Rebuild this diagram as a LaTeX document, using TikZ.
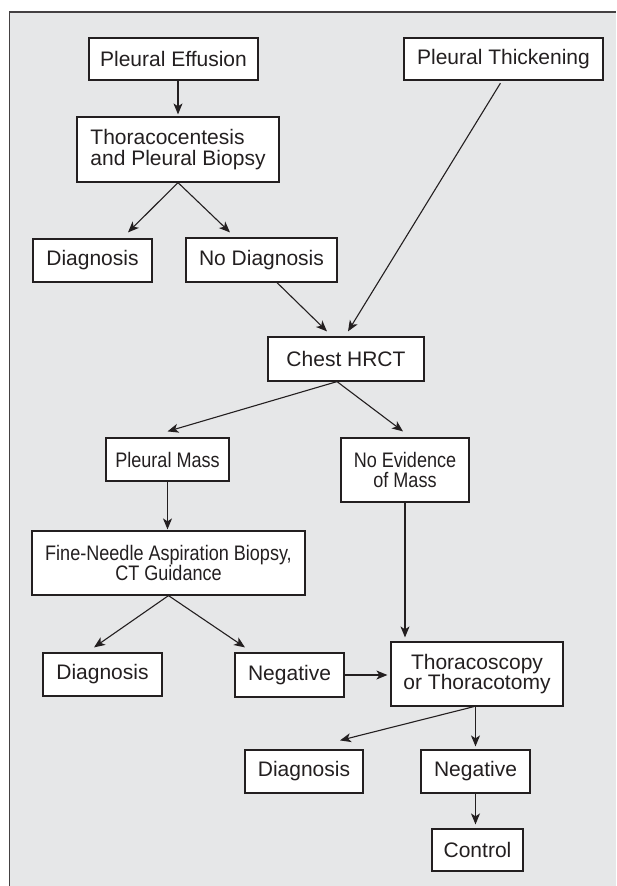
\documentclass[tikz,border=0pt]{standalone}
\usepackage{fontspec}
\setmainfont{Liberation Sans}
\newfontfamily\narrowfont[FakeStretch=0.86]{Liberation Sans}
\usetikzlibrary{arrows.meta}
\definecolor{panel}{HTML}{E6E7E8}
\definecolor{ink}{HTML}{231F20}

\begin{document}
\begin{tikzpicture}[x=1pt,y=-1pt,
    box/.style={draw=ink,line width=1.2pt,fill=white,text=ink,inner sep=0pt,
        align=center,font=\fontsize{21}{20.5}\selectfont},
    narrow/.style={font=\narrowfont\fontsize{21}{20.5}\selectfont},
    arr/.style={draw=ink,line width=1.1pt,-{Stealth[length=11pt,width=9pt,inset=3pt]}}]
                \useasboundingbox (0,0) rectangle (616,886);
                \fill[panel] (9.5,12) rectangle (616,886);
                \draw[ink!85,line width=1.5pt] (9.5,886) -- (9.5,12) -- (616,12);

                \node[box,minimum width=169,minimum height=42] (effusion) at (173.5,59) {Pleural Effusion};
                \node[box,minimum width=202,minimum height=65,align=left] (thoraco) at (178,149.5) {Thoracocentesis\\and Pleural Biopsy};
                \node[box,minimum width=199,minimum height=42] (thick) at (503.5,59) {Pleural Thickening};
                \node[box,minimum width=119,minimum height=43] (diag1) at (92.5,260.5) {Diagnosis};
                \node[box,minimum width=151,minimum height=44] (nodiag) at (261.5,260) {No Diagnosis};
                \node[box,minimum width=156,minimum height=44] (hrct) at (346,359) {Chest HRCT};
                \node[box,narrow,minimum width=123,minimum height=43] (mass) at (167.5,459.5) {Pleural Mass};
                \node[box,narrow,minimum width=128,minimum height=64] (noevid) at (405,470) {No Evidence\\of Mass};
                \node[box,narrow,minimum width=273,minimum height=64] (fna) at (168.5,563) {Fine-Needle Aspiration Biopsy,\\CT Guidance};
                \node[box,minimum width=119,minimum height=43] (diag2) at (102.5,674.5) {Diagnosis};
                \node[box,minimum width=109,minimum height=44] (neg1) at (289.5,675) {Negative};
                \node[box,minimum width=172,minimum height=64] (scopy) at (477,674) {Thoracoscopy\\or Thoracotomy};
                \node[box,minimum width=118,minimum height=43] (diag3) at (304,771.5) {Diagnosis};
                \node[box,minimum width=109,minimum height=43] (neg2) at (475.5,771.5) {Negative};
                \node[box,minimum width=91,minimum height=42] (control) at (477.5,850) {Control};

                % left branch
                \draw[arr,shorten >=2pt] (thoraco.north |- effusion.south) -- (thoraco.north);
                \draw[arr] (thoraco.south) -- ([xshift=35.5pt,yshift=6pt]diag1.north);
                \draw[arr] (thoraco.south) -- ([xshift=-31.5pt,yshift=5pt]nodiag.north);
                \draw[arr] ([xshift=15.5pt]nodiag.south) -- ([xshift=-19pt,yshift=5pt]hrct.north);
                \draw[arr,shorten <=3pt] ([xshift=-1.5pt]thick.south) -- ([xshift=2pt,yshift=5pt]hrct.north);

                % after the CT
                \draw[arr] ([xshift=-9pt]hrct.south) -- ([yshift=6pt]mass.north);
                \draw[arr] ([xshift=-9pt]hrct.south) -- ([xshift=-2pt,yshift=6pt]noevid.north);
                \draw[arr,shorten >=1pt] (mass.south) -- (mass.south |- fna.north);
                \draw[arr,shorten >=4pt] (noevid.south) -- (noevid.south |- scopy.north);
                \draw[arr] (fna.south) -- ([xshift=-8.5pt,yshift=5pt]diag2.north);
                \draw[arr] (fna.south) -- ([xshift=-44.5pt,yshift=5pt]neg1.north);
                \draw[arr,shorten >=3pt] (neg1.east) -- (neg1.east -| scopy.west);

                % surgery
                \draw[arr] ([xshift=-3pt]scopy.south) -- ([xshift=36pt,yshift=9pt]diag3.north);
                \draw[arr,shorten >=3pt] (scopy.south -| neg2.north) -- (neg2.north);
                \draw[arr,shorten >=4pt] (neg2.south) -- (neg2.south |- control.north);
            \end{tikzpicture}
\end{document}
